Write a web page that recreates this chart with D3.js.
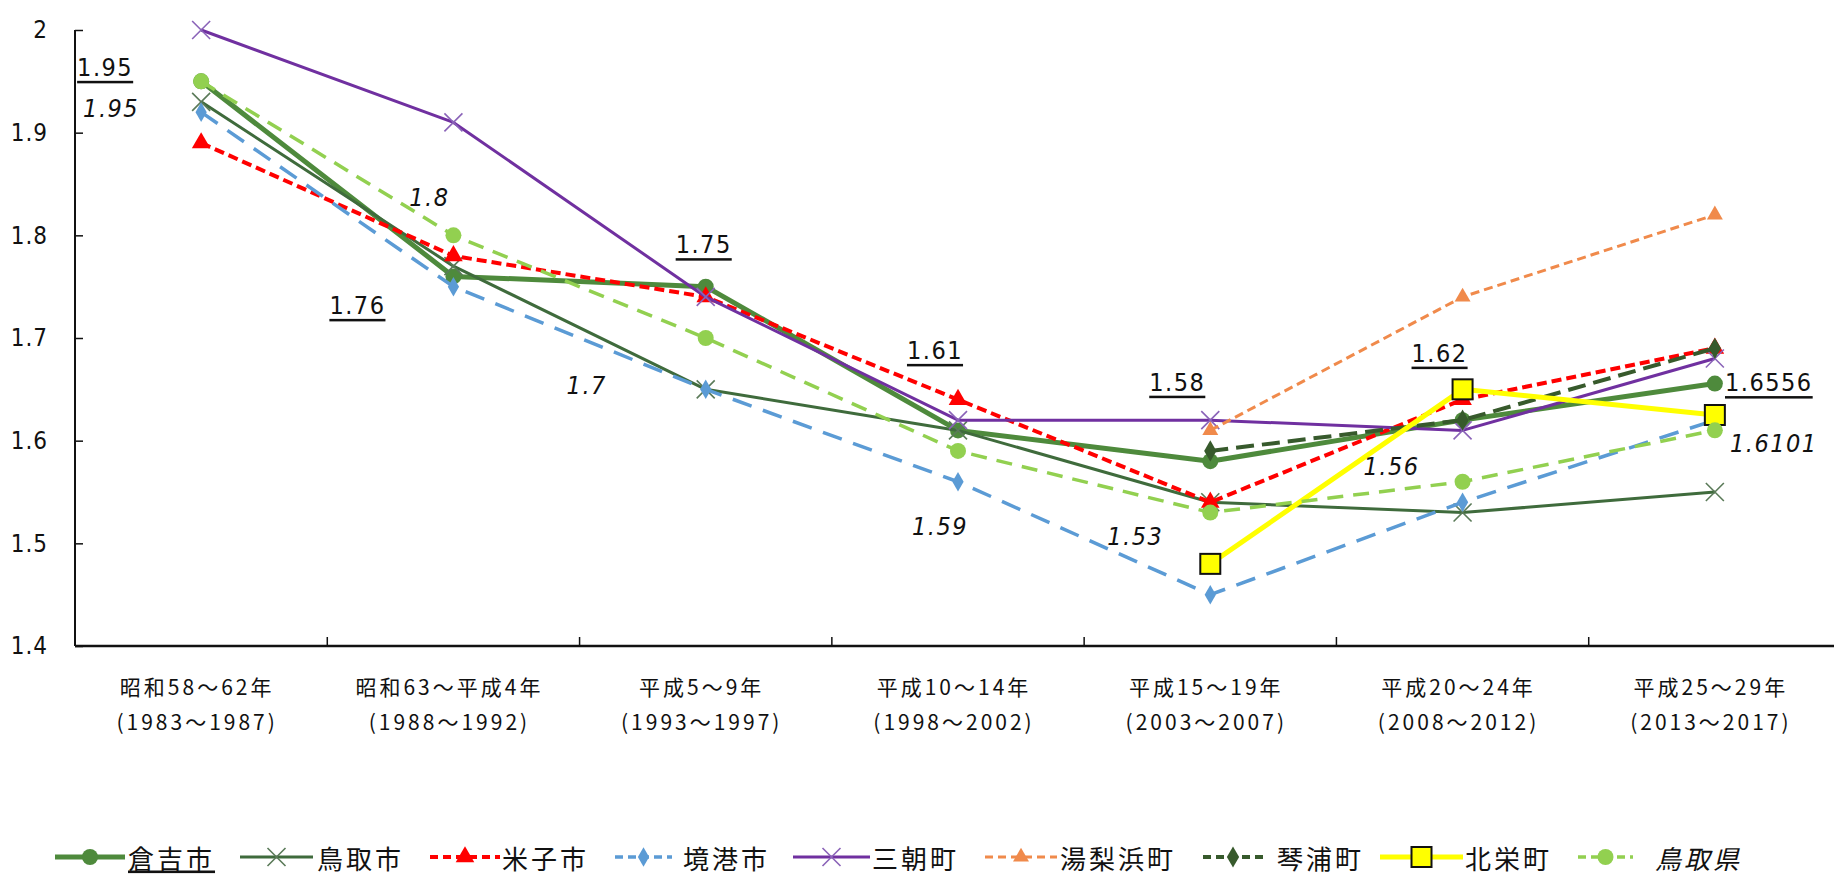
<!DOCTYPE html>
<html>
<head>
<meta charset="utf-8">
<script src="https://cdn.jsdelivr.net/npm/d3@7"></script>
<style>
  body { margin: 0; background: #fff; }
  svg text { fill: #111; }
</style>
</head>
<body>
<svg id="chart" width="1834" height="877"></svg>
<script>
//Categories (x axis)
const periods = ['昭和58～62年', '昭和63～平成4年', '平成5～9年', '平成10～14年', '平成15～19年', '平成20～24年', '平成25～29年'];
const yearRanges = ['(1983～1987)', '(1988～1992)', '(1993～1997)', '(1998～2002)', '(2003～2007)', '(2008～2012)', '(2013～2017)'];
const yTicks = [1.4, 1.5, 1.6, 1.7, 1.8, 1.9, 2];

//Series values
const kurayoshi = [1.95, 1.76, 1.75, 1.61, 1.58, 1.62, 1.6556];
const tottoriCity = [1.93, 1.77, 1.65, 1.61, 1.54, 1.53, 1.55];
const yonago = [1.89, 1.78, 1.74, 1.64, 1.54, 1.64, 1.69];
const sakaiminato = [1.92, 1.75, 1.65, 1.56, 1.45, 1.54, 1.62];
const misasa = [2.00, 1.91, 1.74, 1.62, 1.62, 1.61, 1.68];
const yurihama = [null, null, null, null, 1.61, 1.74, 1.82];
const kotoura = [null, null, null, null, 1.59, 1.62, 1.69];
const hokuei = [null, null, null, null, 1.48, 1.65, 1.625];
const tottoriPref = [1.95, 1.80, 1.70, 1.59, 1.53, 1.56, 1.6101];

//Series styling
const series = [
  { name: '倉吉市', values: kurayoshi, color: '#4e8a3c', width: 5, dash: null, marker: 'circle', size: 8, underline: true },
  { name: '鳥取市', values: tottoriCity, color: '#3f6b3c', width: 3, dash: null, marker: 'x', size: 9, mcolor: '#5a7a58' },
  { name: '米子市', values: yonago, color: '#ff0000', width: 4, dash: '10,5', marker: 'triangle', size: 150 },
  { name: '境港市', values: sakaiminato, color: '#5b9bd5', width: 3.5, dash: '20,12', marker: 'diamond', size: 110 },
  { name: '三朝町', values: misasa, color: '#7030a0', width: 3, dash: null, marker: 'x', size: 9, mcolor: '#8a63b8' },
  { name: '湯梨浜町', values: yurihama, color: '#f08a4b', width: 3, dash: '9,5', marker: 'triangle', size: 110 },
  { name: '琴浦町', values: kotoura, color: '#375a2c', width: 4, dash: '18,8', marker: 'diamond', size: 130 },
  { name: '北栄町', values: hokuei, color: '#ffff00', width: 5, dash: null, marker: 'square', size: 20 },
  { name: '鳥取県', values: tottoriPref, color: '#92d050', width: 3.5, dash: '16,10', marker: 'circle', size: 8, italic: true }
];

//Data label offsets (layout only)
const kurayoshiLabelOffsets = [[-96, -14], [-96, 29], [-2, -42], [-23, -80], [-33, -79], [-23, -67], [54, -1]];
const prefLabelOffsets = [[-90, 27], [-24, -38], [-119, 47], [-18, 76], [-75, 24], [-71, -15], [59, 13]];

//Legend layout
const legendLine = [[55, 125], [240, 313], [430, 500], [615, 672], [793, 870], [985, 1057], [1203, 1263], [1380, 1463], [1578, 1633]];
const legendText = [128, 317, 502, 683, 872, 1060, 1277, 1465, 1655];

const svg = d3.select('#chart');
const plotLeft = 75, plotRight = 1841, plotTop = 30, plotBottom = 646;
const numFont = '"Liberation Sans Narrow", "DejaVu Sans Condensed", sans-serif';
const jpFont = '"Noto Sans CJK JP", sans-serif';

//Scales
let x = d3.scaleBand().domain(periods).range([plotLeft, plotRight]).padding(0);
let y = d3.scaleLinear().domain([1.4, 2]).range([plotBottom, plotTop]);
let cx = i => x(periods[i]) + x.bandwidth() / 2;

//Y axis
let yAxis = svg.append('g')
  .attr('transform', 'translate(' + plotLeft + ',0)')
  .call(d3.axisLeft(y).tickValues(yTicks).tickSize(-8).tickPadding(27)
    .tickFormat(d => String(+d.toFixed(1))));
yAxis.select('.domain').remove();
yAxis.selectAll('line').attr('stroke', '#111').attr('stroke-width', 1.5);
yAxis.selectAll('text')
  .style('font-family', numFont)
  .style('font-size', '24px')
  .style('letter-spacing', '1px')
  .attr('fill', '#111');
svg.append('line')
  .attr('x1', plotLeft).attr('x2', plotLeft).attr('y1', plotTop).attr('y2', plotBottom)
  .attr('stroke', '#111').attr('stroke-width', 2);

//X axis: line, ticks at band boundaries, two-line labels
svg.append('line')
  .attr('x1', plotLeft).attr('x2', 1834).attr('y1', plotBottom).attr('y2', plotBottom)
  .attr('stroke', '#111').attr('stroke-width', 2.5);
svg.selectAll('.xtick')
  .data(periods.slice(1))
  .enter().append('line')
    .attr('x1', d => x(d)).attr('x2', d => x(d))
    .attr('y1', plotBottom).attr('y2', plotBottom - 9)
    .attr('stroke', '#111').attr('stroke-width', 1.5);

let xLabels = svg.selectAll('.xlab')
  .data(periods)
  .enter().append('text')
    .attr('text-anchor', 'middle')
    .style('font-family', jpFont)
    .style('font-size', '21px')
    .style('letter-spacing', '3px');
xLabels.append('tspan')
  .attr('x', (d, i) => cx(i) - 4).attr('y', 695)
  .text(d => d);
xLabels.append('tspan')
  .attr('x', (d, i) => cx(i) - 4).attr('y', 730)
  .text((d, i) => yearRanges[i]);

//Marker drawing
function drawMarker(g, s, px, py) {
  let mc = s.mcolor || s.color;
  if (s.marker === 'circle') {
    g.append('circle').attr('cx', px).attr('cy', py).attr('r', s.size).attr('fill', s.color);
  } else if (s.marker === 'x') {
    let k = s.size;
    g.append('path')
      .attr('d', `M${px - k},${py - k}L${px + k},${py + k}M${px - k},${py + k}L${px + k},${py - k}`)
      .attr('stroke', mc).attr('stroke-width', 1.6).attr('fill', 'none');
  } else if (s.marker === 'triangle') {
    g.append('path')
      .attr('d', d3.symbol(d3.symbolTriangle, s.size)())
      .attr('transform', `translate(${px},${py})`).attr('fill', s.color);
  } else if (s.marker === 'diamond') {
    g.append('path')
      .attr('d', d3.symbol(d3.symbolDiamond, s.size)())
      .attr('transform', `translate(${px},${py})`).attr('fill', s.color);
  } else if (s.marker === 'square') {
    g.append('rect')
      .attr('x', px - s.size / 2).attr('y', py - s.size / 2)
      .attr('width', s.size).attr('height', s.size)
      .attr('fill', s.color).attr('stroke', '#111').attr('stroke-width', 2);
  }
}

//Lines and markers
let line = d3.line()
  .defined(d => d.v != null)
  .x(d => cx(d.i))
  .y(d => y(d.v));

series.forEach(s => {
  let pts = s.values.map((v, i) => ({ v: v, i: i }));
  let g = svg.append('g');
  g.append('path')
    .datum(pts)
    .attr('d', line)
    .attr('fill', 'none')
    .attr('stroke', s.color)
    .attr('stroke-width', s.width)
    .attr('stroke-dasharray', s.dash)
    .attr('stroke-linejoin', 'round');
  pts.filter(d => d.v != null).forEach(d => drawMarker(g, s, cx(d.i), y(d.v)));
});

//Data labels
function addLabels(values, offsets, underline) {
  svg.selectAll(null)
    .data(values)
    .enter().append('text')
      .attr('x', (d, i) => cx(i) + offsets[i][0])
      .attr('y', (d, i) => y(d) + offsets[i][1])
      .attr('text-anchor', 'middle')
      .attr('dominant-baseline', 'central')
      .style('font-family', numFont)
      .style('font-size', '25px')
      .style('letter-spacing', '1.5px')
      .style('font-style', underline ? 'normal' : 'italic')
      .style('text-decoration', underline ? 'underline' : 'none')
      .text(d => String(d));
}
addLabels(kurayoshi, kurayoshiLabelOffsets, true);
addLabels(tottoriPref, prefLabelOffsets, false);

//Legend
const legendY = 857;
series.forEach((s, i) => {
  let g = svg.append('g');
  let [x1, x2] = legendLine[i];
  g.append('line')
    .attr('x1', x1).attr('x2', x2).attr('y1', legendY).attr('y2', legendY)
    .attr('stroke', s.color).attr('stroke-width', s.width)
    .attr('stroke-dasharray', s.dash ? '8,5' : null);
  drawMarker(g, s, (x1 + x2) / 2, legendY);
  g.append('text')
    .attr('x', legendText[i]).attr('y', legendY)
    .attr('dominant-baseline', 'central')
    .style('font-family', jpFont)
    .style('font-size', '26px')
    .style('letter-spacing', '3px')
    .style('font-style', s.italic ? 'italic' : 'normal')
    .style('text-decoration', s.underline ? 'underline' : 'none')
    .text(s.name);
});
</script>
</body>
</html>
